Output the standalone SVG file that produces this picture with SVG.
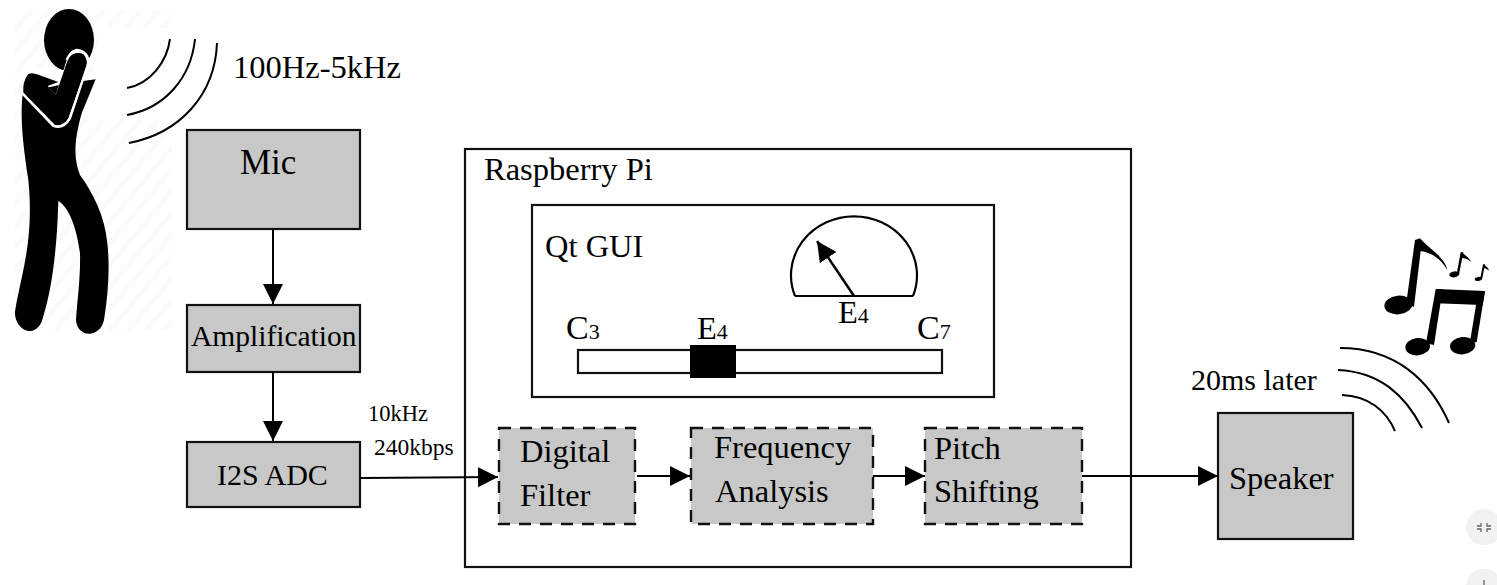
<svg xmlns="http://www.w3.org/2000/svg" width="1497" height="585" viewBox="0 0 1497 585">
<style>
text{font-family:"Liberation Serif","Times New Roman",serif;fill:#000;font-size:32.500px}
.box{fill:#c8c8c8;stroke:#111;stroke-width:2.2}
.dash{fill:#c8c8c8;stroke:#111;stroke-width:2.4;stroke-dasharray:12 9}
.plain{fill:#fff;stroke:#111;stroke-width:2.2}
.line{fill:none;stroke:#000;stroke-width:2}
.wave{fill:none;stroke:#000;stroke-width:2}
.sub{font-size:22px}
</style>
<defs>
<marker id="arrow" markerUnits="userSpaceOnUse" markerWidth="22" markerHeight="22" refX="20" refY="11" orient="auto"><path d="M0 1L20 11L0 21Z" fill="#000"/></marker>
<pattern id="hatch" patternUnits="userSpaceOnUse" width="14" height="14" patternTransform="rotate(40)"><rect width="14" height="14" fill="#fff"/><rect width="5" height="14" fill="#fbfbfb"/></pattern>
</defs>
<g id="background-hatch"><path d="M15 10H172V330H15Z" fill="url(#hatch)"/><path d="M100 28H172V120H85Z" fill="#fff"/></g>
<g id="person">
<ellipse cx="69" cy="40" rx="25" ry="31"/>
<g transform="scale(0.33333)">
<path d="M68 280C60 350 68 430 85 540C95 640 88 720 72 800C62 850 50 900 45 935C42 985 100 1020 125 965C150 890 170 780 175 603C205 620 230 680 240 760C242 830 232 900 228 960C232 1015 300 1015 312 960C325 880 330 800 322 730C315 650 280 580 240 525C222 480 220 430 245 340L287 238L200 250Z"/>
</g>
<g transform="translate(15 40) scale(0.33333)">
<path d="M22 160L115 258Q145 268 165 235L220 70Q222 35 185 30Q165 35 155 60L122 165L98 138L130 128L140 100L70 80L20 100Z" fill="#fff"/>
<path d="M25 158Q22 125 40 102Q52 96 70 104L130 126L98 138L122 165L160 55Q178 32 205 42Q220 60 214 80L160 235Q145 260 120 255Z"/>
<path d="M22 160L115 258Q145 268 165 235L220 70Q222 35 185 30Q165 35 155 60" fill="none" stroke="#fff" stroke-width="7"/>
</g>
</g>
<g id="voice-waves">
<path class="wave" d="M127 88C150 84 167 62 170 39"/>
<path class="wave" d="M127 115C165 108 191 78 195 39"/>
<path class="wave" d="M129 143C180 133 215 95 217 43"/>
</g>
<g id="speaker-waves">
<path class="wave" d="M1340 348C1395 348 1430 380 1449 423"/>
<path class="wave" d="M1338 370C1380 372 1405 395 1422 428"/>
<path class="wave" d="M1342 395C1368 396 1386 410 1395 431"/>
</g>
<g id="music-notes" transform="translate(1370 225) scale(0.33333)">
<ellipse cx="85" cy="240" rx="42" ry="28" transform="rotate(-6 85 240)"/>
<path d="M108 240L135 45L150 40L160 50C185 75 225 100 232 135C215 105 190 85 152 78L132 245Z"/>
<path d="M200 192L345 198L338 240L197 235Z"/>
<path d="M168 355L197 192H218L192 360Z"/>
<path d="M300 350L325 198H345L320 352Z"/>
<ellipse cx="143" cy="365" rx="37" ry="26" transform="rotate(-6 143 365)"/>
<ellipse cx="278" cy="362" rx="38" ry="26" transform="rotate(-6 278 362)"/>
<ellipse cx="253" cy="148" rx="15" ry="9" transform="rotate(-10 253 148)"/>
<path d="M260 148L272 82H280L267 148Z"/>
<path d="M277 82C283 92 298 96 302 110C292 100 284 100 274 98Z"/>
<ellipse cx="325" cy="162" rx="11" ry="6" transform="rotate(-10 325 162)"/>
<path d="M331 160L339 118H345L337 160Z"/>
<path d="M342 118C346 124 354 126 357 137C350 130 346 130 340 128Z"/>
</g>
<g id="freq-label"><text x="233" y="78">100Hz-5kHz</text></g>
<g id="mic"><rect class="box" x="187" y="130" width="173" height="99"/><text x="240" y="174" style="font-size:35px">Mic</text></g>
<g id="amplification"><rect class="box" x="187" y="305" width="173" height="67"/><text x="191" y="346" style="font-size:29.500px">Amplification</text></g>
<g id="i2s-adc"><rect class="box" x="187" y="442" width="173" height="65"/><text x="217" y="485" style="font-size:30px">I2S ADC</text></g>
<g id="rate-label"><text x="368" y="421" style="font-size:22.500px">10kHz</text><text x="374" y="455" style="font-size:23.500px">240kbps</text></g>
<g id="raspberry-pi"><rect class="plain" x="465" y="149" width="666" height="418"/><text x="484" y="180">Raspberry Pi</text></g>
<g id="qt-gui"><rect class="plain" x="532" y="205" width="462" height="192"/><text x="545" y="257" style="font-size:32.500px">Qt GUI</text></g>
<g id="gauge"><path class="line" d="M795 296H913M795 296A63 59 0 1 1 913 296" style="stroke-width:2.200"/><text x="838" y="323">E<tspan class="sub">4</tspan></text></g>
<g id="slider"><rect class="plain" x="578" y="350" width="364" height="23"/><rect x="690" y="345" width="46" height="33" fill="#000"/><text x="566" y="339" style="font-size:34px">C<tspan class="sub">3</tspan></text><text x="697" y="339">E<tspan class="sub">4</tspan></text><text x="917" y="339" style="font-size:34px">C<tspan class="sub">7</tspan></text></g>
<g id="digital-filter"><rect class="dash" x="499" y="428" width="136" height="96"/><text x="520" y="462">Digital</text><text x="520" y="506">Filter</text></g>
<g id="frequency-analysis"><rect class="dash" x="691" y="428" width="182" height="96"/><text x="714" y="458">Frequency</text><text x="715" y="502">Analysis</text></g>
<g id="pitch-shifting"><rect class="dash" x="925" y="428" width="157" height="96"/><text x="934" y="459">Pitch</text><text x="934" y="502">Shifting</text></g>
<g id="speaker"><rect class="box" x="1218" y="413" width="135" height="126"/><text x="1229" y="489">Speaker</text></g>
<g id="latency-label"><text x="1191" y="390" style="font-size:30px">20ms later</text></g>
<g id="connectors">
<path class="line" d="M273 229V304" marker-end="url(#arrow)"/>
<path class="line" d="M273 372V441" marker-end="url(#arrow)"/>
<path class="line" d="M361 478L498 477" marker-end="url(#arrow)"/>
<path class="line" d="M637 476H690" marker-end="url(#arrow)"/>
<path class="line" d="M873 476H925" marker-end="url(#arrow)"/>
<path class="line" d="M1082 476H1218" marker-end="url(#arrow)"/>
<path class="line" d="M854 296L817 241" style="stroke-width:2.500" marker-end="url(#arrow)"/>
</g>
<g id="viewer-buttons">
<circle cx="1484" cy="527" r="18" fill="#f1f1f1"/>
<path d="M1481 523v3h-4M1487 523v3h4M1481 532v-3h-4M1487 532v-3h4" fill="none" stroke="#666" stroke-width="1.300"/>
<circle cx="1484" cy="587" r="18" fill="#f1f1f1"/>
<path d="M1484 580v5" stroke="#666" stroke-width="1.300"/>
</g>
</svg>
